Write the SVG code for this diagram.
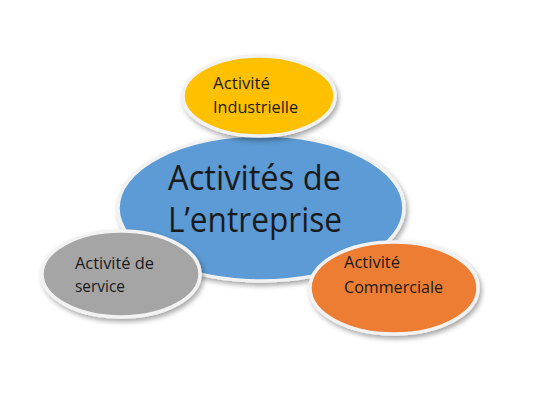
<svg xmlns="http://www.w3.org/2000/svg" width="534" height="408" viewBox="0 0 534 408">
<defs>
<filter id="sh" x="-20%" y="-20%" width="140%" height="150%">
<feDropShadow dx="2" dy="3" stdDeviation="2.5" flood-color="#000" flood-opacity="0.35"/>
</filter>
<style>
.e{stroke:#f2f2f2;stroke-width:3.5;filter:url(#sh)}
.t{font-family:"Open Sans","Liberation Sans",sans-serif;fill:#1a1a1a}
.s{font-size:17px}
.b{font-size:34px}
</style>
</defs>
<rect width="534" height="408" fill="#ffffff"/>
<g id="center">
<ellipse class="e" cx="261" cy="208" rx="143" ry="73" fill="#5b9bd5"/>
<text class="t b" x="168" y="190" textLength="173" lengthAdjust="spacingAndGlyphs">Activités de</text>
<text class="t b" x="168" y="232" textLength="174" lengthAdjust="spacingAndGlyphs">L’entreprise</text>
</g>
<g id="industrielle">
<ellipse class="e" cx="259" cy="96" rx="76" ry="40" fill="#ffc000"/>
<text class="t s" x="213" y="89" textLength="57" lengthAdjust="spacingAndGlyphs">Activité</text>
<text class="t s" x="213" y="113" textLength="85" lengthAdjust="spacingAndGlyphs">Industrielle</text>
</g>
<g id="service">
<ellipse class="e" cx="121" cy="274" rx="79" ry="43" fill="#a5a5a5"/>
<text class="t s" x="75" y="269" textLength="79" lengthAdjust="spacingAndGlyphs">Activité de</text>
<text class="t s" x="75" y="292" textLength="50" lengthAdjust="spacingAndGlyphs">service</text>
</g>
<g id="commerciale">
<ellipse class="e" cx="394" cy="288" rx="84" ry="46" fill="#ed7d31"/>
<text class="t s" x="344" y="268" textLength="56" lengthAdjust="spacingAndGlyphs">Activité</text>
<text class="t s" x="344" y="293" textLength="99" lengthAdjust="spacingAndGlyphs">Commerciale</text>
</g>
<g id="connectors"/>
</svg>
